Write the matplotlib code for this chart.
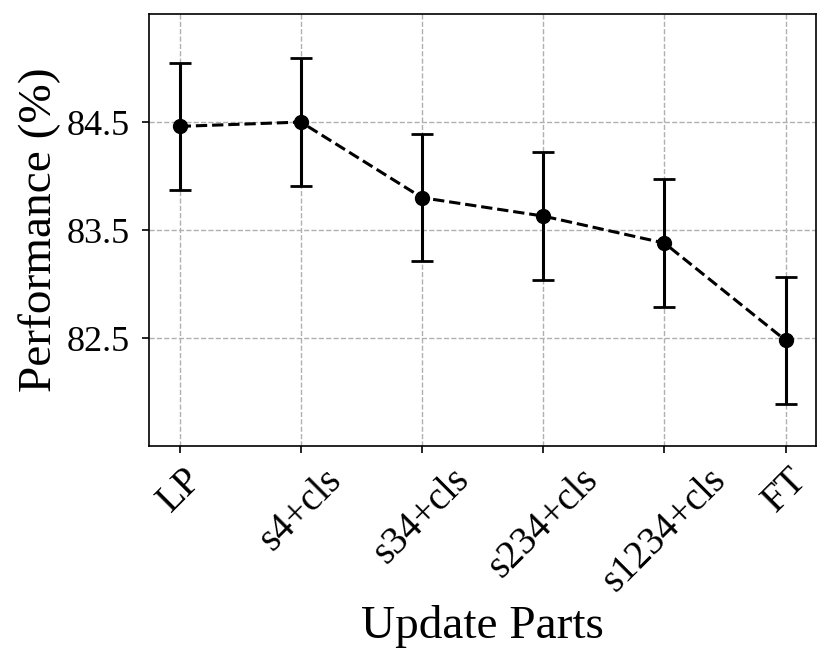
import numpy as np
import matplotlib
matplotlib.use("Agg")
import matplotlib.pyplot as plt

plt.rcParams['font.family'] = ['Liberation Serif', 'DejaVu Serif']

parts = ["LP", "s4+cls", "s34+cls", "s234+cls", "s1234+cls", "FT"]
performance = [84.46, 84.50, 83.80, 83.63, 83.38, 82.48]
errors = [0.59, 0.59, 0.59, 0.59, 0.59, 0.59]

fig = plt.figure(figsize=(8.3, 6.67), dpi=100)
ax = fig.add_axes([0.18, 0.331, 0.803, 0.648])

x = np.arange(len(parts))
ax.errorbar(x, performance, yerr=errors, fmt='o--', color='black',
            linewidth=2.2, markersize=10, elinewidth=2.2, capsize=8, capthick=2,
            zorder=3)

ax.set_xticks(x)
ax.set_xticklabels(parts, rotation=45, ha='center', fontsize=28)
ax.set_yticks([82.5, 83.5, 84.5])
ax.set_yticklabels(["82.5", "83.5", "84.5"], fontsize=26)
ax.set_ylim(81.5, 85.5)
ax.set_xlim(-0.25, 5.25)

ax.grid(True, linestyle='--', color='#b0b0b0', linewidth=1)
ax.set_axisbelow(True)
ax.tick_params(length=5, width=1.2)
ax.tick_params(axis='y', pad=9)
ax.tick_params(axis='x', pad=6)
for s in ax.spines.values():
    s.set_linewidth(1.2)

ax.set_xlabel("Update Parts", fontsize=34)
ax.set_ylabel("Performance (%)", fontsize=34)

fig.savefig("out.png", dpi=100)
